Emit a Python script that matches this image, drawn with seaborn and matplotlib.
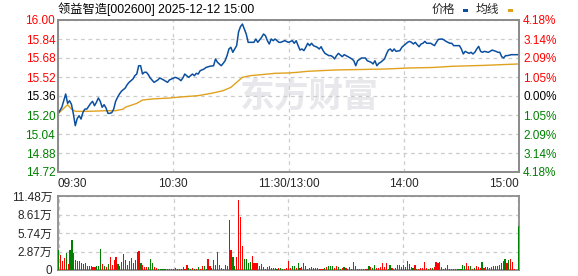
import matplotlib
matplotlib.use("Agg")
import matplotlib.pyplot as plt
from matplotlib.patches import Rectangle
import numpy as np
import pandas as pd
import seaborn as sns

# ---------------- data ----------------
title = "领益智造[002600] 2025-12-12 15:00"
prev_close = 15.36

price_minutes = [0, 2, 4, 5, 6, 7, 8, 9, 10, 11, 12, 13, 14, 15, 17, 18, 19, 20, 21, 22,
                 23, 24, 25, 26, 27, 28, 29, 30, 31, 32, 33, 35, 36, 37, 39, 40, 41, 42, 43, 44,
                 45, 46, 47, 48, 50, 52, 53, 55, 57, 58, 60, 61, 62, 63, 64, 65, 66, 67, 68, 70,
                 71, 72, 73, 74, 76, 77, 79, 81, 82, 83, 85, 86, 87, 88, 89, 90, 91, 92, 93, 94,
                 95, 96, 97, 98, 99, 101, 102, 103, 104, 106, 107, 108, 109, 110, 111, 112, 113, 114, 115, 116,
                 118, 120, 122, 123, 124, 125, 126, 127, 128, 129, 130, 131, 132, 133, 135, 136, 137, 138, 139, 141,
                 142, 143, 144, 145, 146, 148, 149, 150, 151, 153, 154, 155, 156, 158, 160, 161, 163, 164, 165, 166,
                 167, 168, 170, 171, 172, 173, 174, 175, 176, 178, 179, 181, 182, 183, 184, 185, 186, 187, 188, 189,
                 190, 191, 192, 194, 196, 197, 198, 200, 201, 202, 203, 204, 205, 206, 208, 209, 210, 211, 212, 213,
                 214, 215, 216, 217, 218, 219, 220, 221, 222, 224, 225, 226, 228, 229, 230, 231, 232, 233, 234, 236,
                 238, 240]
price_values = [15.21, 15.265, 15.377, 15.298, 15.32, 15.29, 15.21, 15.11, 15.17, 15.194, 15.166, 15.223, 15.25, 15.25, 15.298, 15.315, 15.278, 15.307, 15.343, 15.315,
                15.265, 15.287, 15.259, 15.214, 15.214, 15.22, 15.25, 15.315, 15.349, 15.377, 15.40, 15.427, 15.455, 15.475, 15.503, 15.531, 15.545, 15.615, 15.615, 15.545,
                15.56, 15.56, 15.54, 15.512, 15.475, 15.495, 15.512, 15.495, 15.475, 15.495, 15.509, 15.517, 15.512, 15.503, 15.489, 15.512, 15.545, 15.531, 15.517, 15.545,
                15.531, 15.551, 15.545, 15.573, 15.587, 15.60, 15.61, 15.615, 15.672, 15.644, 15.615, 15.635, 15.657, 15.70, 15.756, 15.77, 15.728, 15.756, 15.784, 15.90,
                15.944, 15.966, 15.924, 15.882, 15.812, 15.812, 15.812, 15.84, 15.812, 15.854, 15.882, 15.868, 15.826, 15.798, 15.84, 15.826, 15.84, 15.826, 15.812, 15.812,
                15.826, 15.812, 15.826, 15.804, 15.826, 15.784, 15.747, 15.756, 15.742, 15.77, 15.804, 15.784, 15.804, 15.784, 15.77, 15.756, 15.775, 15.742, 15.719, 15.70,
                15.70, 15.691, 15.672, 15.70, 15.719, 15.691, 15.708, 15.70, 15.691, 15.672, 15.657, 15.615, 15.657, 15.68, 15.68, 15.657, 15.644, 15.63, 15.657, 15.615,
                15.635, 15.644, 15.672, 15.714, 15.747, 15.756, 15.736, 15.756, 15.736, 15.742, 15.77, 15.798, 15.812, 15.82, 15.812, 15.798, 15.812, 15.792, 15.775, 15.798,
                15.804, 15.82, 15.804, 15.804, 15.784, 15.812, 15.837, 15.84, 15.832, 15.82, 15.812, 15.804, 15.804, 15.784, 15.784, 15.784, 15.756, 15.714, 15.736, 15.728,
                15.719, 15.728, 15.714, 15.728, 15.756, 15.778, 15.736, 15.728, 15.736, 15.728, 15.736, 15.747, 15.736, 15.728, 15.728, 15.691, 15.68, 15.70, 15.70, 15.708,
                15.708, 15.708]

avg_minutes = [0, 5, 7, 9, 16, 25, 30, 34, 35, 39, 41, 44, 49, 58, 64, 73, 80, 86, 90, 93,
               96, 100, 106, 113, 120, 125, 130, 144, 170, 183, 195, 205, 222, 240]
avg_values = [15.21, 15.287, 15.25, 15.231, 15.231, 15.236, 15.236, 15.25, 15.265, 15.287, 15.298, 15.326, 15.335, 15.343, 15.352, 15.363, 15.383, 15.405, 15.433, 15.475,
              15.517, 15.531, 15.54, 15.551, 15.554, 15.56, 15.568, 15.579, 15.587, 15.596, 15.60, 15.61, 15.618, 15.63]

# volume in 万 (10k shares), one bar per minute
vol_0930_1030 = [3.08, 2.28, 1.38, 1.86, 2.66, 0.96, 3.08, 4.67, 2.66, 1.49,
                 1.33, 1.33, 1.06, 0.90, 1.06, 0.58, 0.58, 0.69, 0.43, 0.43,
                 0.58, 0.69, 3.30, 0.90, 0.58, 0.43, 0.90, 2.02, 0.80, 1.49,
                 2.02, 0.90, 0.58, 1.22, 2.50, 1.49, 0.74, 1.38, 1.86, 1.06,
                 1.54, 2.82, 2.98, 1.06, 0.74, 0.43, 0.43, 0.43, 1.70, 1.06,
                 0.43, 0.27, 0.11, 0.11, 0.11, 0.11, 0.20, 0.11, 0.11, 0.20]
dir_0930_1030 = "GRRRGRGGRR" "RGGRGRRGRR" "GGGRGRGRRR" "RGGRRGRRRG" "GRRGRRRGGG" "RRGGGGRGRR"

vol_1030_1130 = [0.11, 0.27, 0.11, 0.11, 0.11, 0.43, 0.11, 0.74, 0.27, 0.11, 0.27,
                 0.11, 0.11, 0.43, 0.11, 0.58, 0.58, 0.11, 1.70, 0.58, 0.27,
                 1.54, 0.74, 2.82, 0.74, 0.27, 0.11, 0.74, 0.58, 7.76, 3.13,
                 2.02, 0.58, 2.02, 10.79, 8.24, 3.77, 1.70, 1.70, 1.06, 1.22,
                 2.18, 1.06, 1.06, 1.06, 0.58, 0.90, 0.43, 0.11, 0.43, 0.58,
                 0.27, 0.27, 0.27, 0.11, 0.27, 0.27, 0.11, 0.11, 0.27, 1.38]
dir_1030_1130 = "RRGGGRRRGGR" "GRGRRGGRRG" "RRRGGRRRRR" "GGRRRRGGGG" "RRRGRRGGGR" "RGGGRGGRRR"

vol_1300_1400 = [0.27, 0.58, 0.58, 0.27, 1.06, 0.27, 0.43, 1.06, 0.58,
                 0.11, 0.27, 0.43, 0.27, 0.27, 0.27, 0.11, 0.11, 0.11, 0.27,
                 0.43, 0.58, 0.58, 0.58, 0.27, 0.58, 0.43, 0.11, 0.27, 0.43,
                 0.27, 0.11, 0.43, 0.11, 1.22, 0.58, 0.11, 0.11, 0.11, 0.11,
                 0.11, 0.11, 0.58, 0.43, 0.27, 0.74, 0.27, 0.27, 0.43, 1.06,
                 0.43, 1.06, 0.11, 0.74, 0.27, 0.11, 0.27, 0.74, 0.74, 0.43]
dir_1300_1400 = "RGGRGRRRR" "RRRGGGGRRG" "RGGGRRGGRG" "RRRGGRRRRR" "GRGRGGRRRR" "RRGGRRRRRR"

vol_1400_1500 = [0.74, 0.43, 1.38, 0.90, 0.43, 0.27, 0.74, 0.11, 0.11, 0.27,
                 0.27, 1.22, 0.27, 0.11, 0.27, 0.27, 0.43, 1.22, 1.06, 1.22,
                 0.43, 0.11, 0.27, 0.74, 0.11, 0.11, 0.11, 0.11, 0.11, 0.11, 0.11,
                 0.74, 0.58, 1.06, 0.58, 0.58, 0.11, 0.27, 0.58, 0.43, 0.27,
                 1.22, 0.27, 0.43, 0.43, 0.27, 0.43, 0.58, 0.58, 0.58, 0.74,
                 1.06, 1.38, 1.70, 1.06, 1.54, 1.70, 1.22, 0.11, 0.05, 6.80]
dir_1400_1500 = "RRRGRGRGRR" "RRRGRGRRRR" "GRGRRGRRGGG" "GGRRGRGRRR" "GRGGRRRGGR" "GGGRGRRRGG"

price_ticks = [16.00, 15.84, 15.68, 15.52, 15.36, 15.20, 15.04, 14.88, 14.72]
price_tick_labels = ["16.00", "15.84", "15.68", "15.52", "15.36", "15.20", "15.04", "14.88", "14.72"]
pct_tick_labels = ["4.18%", "3.14%", "2.09%", "1.05%", "0.00%", "1.05%", "2.09%", "3.14%", "4.18%"]
vol_ticks = [0, 2.87, 5.74, 8.61, 11.48]
vol_tick_labels = ["0", "2.87万", "5.74万", "8.61万", "11.48万"]
time_ticks = [0, 60, 120, 180, 240]
time_labels = ["09:30", "10:30", "11:30/13:00", "14:00", "15:00"]
legend_labels = ["价格", "均线"]
watermark = "东方财富"

# ---------------- style ----------------
sns.set_style("white")
plt.rcParams["font.family"] = ["Liberation Sans", "Noto Sans CJK SC", "DejaVu Sans"]

BLUE = "#0b4f9f"
GOLD = "#e0a21e"
RED = "#ff0000"
GREEN = "#008000"
GRID = "#cccccc"
SPINE = "#8c8c8c"
W, H = 578, 276

fig = plt.figure(figsize=(W / 100, H / 100), dpi=100)
ax = fig.add_axes([58 / W, 1 - 172 / H, 461 / W, 152 / H])
axv = fig.add_axes([58 / W, 1 - 270 / H, 461 / W, 74 / H])

def label_color(v):
    if abs(v - prev_close) < 1e-9:
        return "black"
    return RED if v > prev_close else GREEN

# watermark
ax.text(0.545, 0.5, watermark, transform=ax.transAxes, ha="center", va="center",
        fontsize=25, fontweight="bold", color="#e8e8ec", family=["Noto Sans CJK SC"], zorder=0)

# price + average lines
sns.lineplot(x=avg_minutes, y=avg_values, ax=ax, color=GOLD, lw=1.0, zorder=3)
sns.lineplot(x=price_minutes, y=price_values, ax=ax, color=BLUE, lw=1.1, zorder=4)

ax.set_xlim(0, 240)
ax.set_ylim(14.72, 16.00)
ax.set_yticks(price_ticks)
ax.set_yticklabels(price_tick_labels)
for lbl, v in zip(ax.get_yticklabels(), price_ticks):
    lbl.set_color(label_color(v))
ax.set_xticks(time_ticks)
ax.set_xticklabels(time_labels)
xl = ax.get_xticklabels()
xl[0].set_ha("left")
xl[-1].set_ha("right")
ax.tick_params(axis="both", length=0, labelsize=8.5)
ax.tick_params(axis="y", pad=2)
ax.tick_params(axis="x", pad=4)
ax.grid(True, linestyle=(0, (3, 3)), color=GRID, lw=0.9)
ax.set_axisbelow(True)
for s in ax.spines.values():
    s.set_color(SPINE)
    s.set_linewidth(1.3)

ax2 = ax.twinx()
ax2.set_ylim(14.72, 16.00)
ax2.set_yticks(price_ticks)
ax2.set_yticklabels(pct_tick_labels)
for lbl, v in zip(ax2.get_yticklabels(), price_ticks):
    lbl.set_color(label_color(v))
ax2.tick_params(axis="y", length=0, labelsize=8.5, pad=3)
for s in ax2.spines.values():
    s.set_color(SPINE)
    s.set_linewidth(1.3)

# volume bars
vols = vol_0930_1030 + vol_1030_1130 + vol_1300_1400 + vol_1400_1500
dirs = list(dir_0930_1030 + dir_1030_1130 + dir_1300_1400 + dir_1400_1500)
vdf = pd.DataFrame({"minute": np.arange(len(vols)), "vol": vols, "dir": dirs})
sns.barplot(data=vdf, x="minute", y="vol", hue="dir", palette={"R": RED, "G": GREEN},
            native_scale=True, width=0.6, dodge=False, legend=False, errorbar=None,
            saturation=1, ax=axv, zorder=3, linewidth=0, antialiased=False)
axv.set_xlim(-0.3, 240.3)
axv.set_ylim(0, 11.48)
axv.set_yticks(vol_ticks)
axv.set_yticklabels(vol_tick_labels)
axv.set_xticks(time_ticks)
axv.set_xticklabels([])
axv.set_xlabel("")
axv.set_ylabel("")
ax.set_xlabel("")
ax.set_ylabel("")
axv.tick_params(axis="both", length=0, labelsize=8.5)
axv.tick_params(axis="y", pad=4)
axv.grid(True, linestyle=(0, (3, 3)), color=GRID, lw=0.9)
axv.set_axisbelow(True)
for s in axv.spines.values():
    s.set_color(SPINE)
    s.set_linewidth(1.3)

# title and legend
fig.text(58 / W, 1 - 9 / H, title, ha="left", va="center", fontsize=8.8, color="black")
fig.text(432 / W, 1 - 10 / H, legend_labels[0], ha="left", va="center", fontsize=8.5)
fig.add_artist(Rectangle((463 / W, 1 - 12 / H), 5 / W, 3 / H, transform=fig.transFigure,
                         color=BLUE, lw=0))
fig.text(476 / W, 1 - 10 / H, legend_labels[1], ha="left", va="center", fontsize=8.5)
fig.add_artist(Rectangle((508 / W, 1 - 12 / H), 5 / W, 3 / H, transform=fig.transFigure,
                         color=GOLD, lw=0))

fig.savefig("out.png", dpi=100)
